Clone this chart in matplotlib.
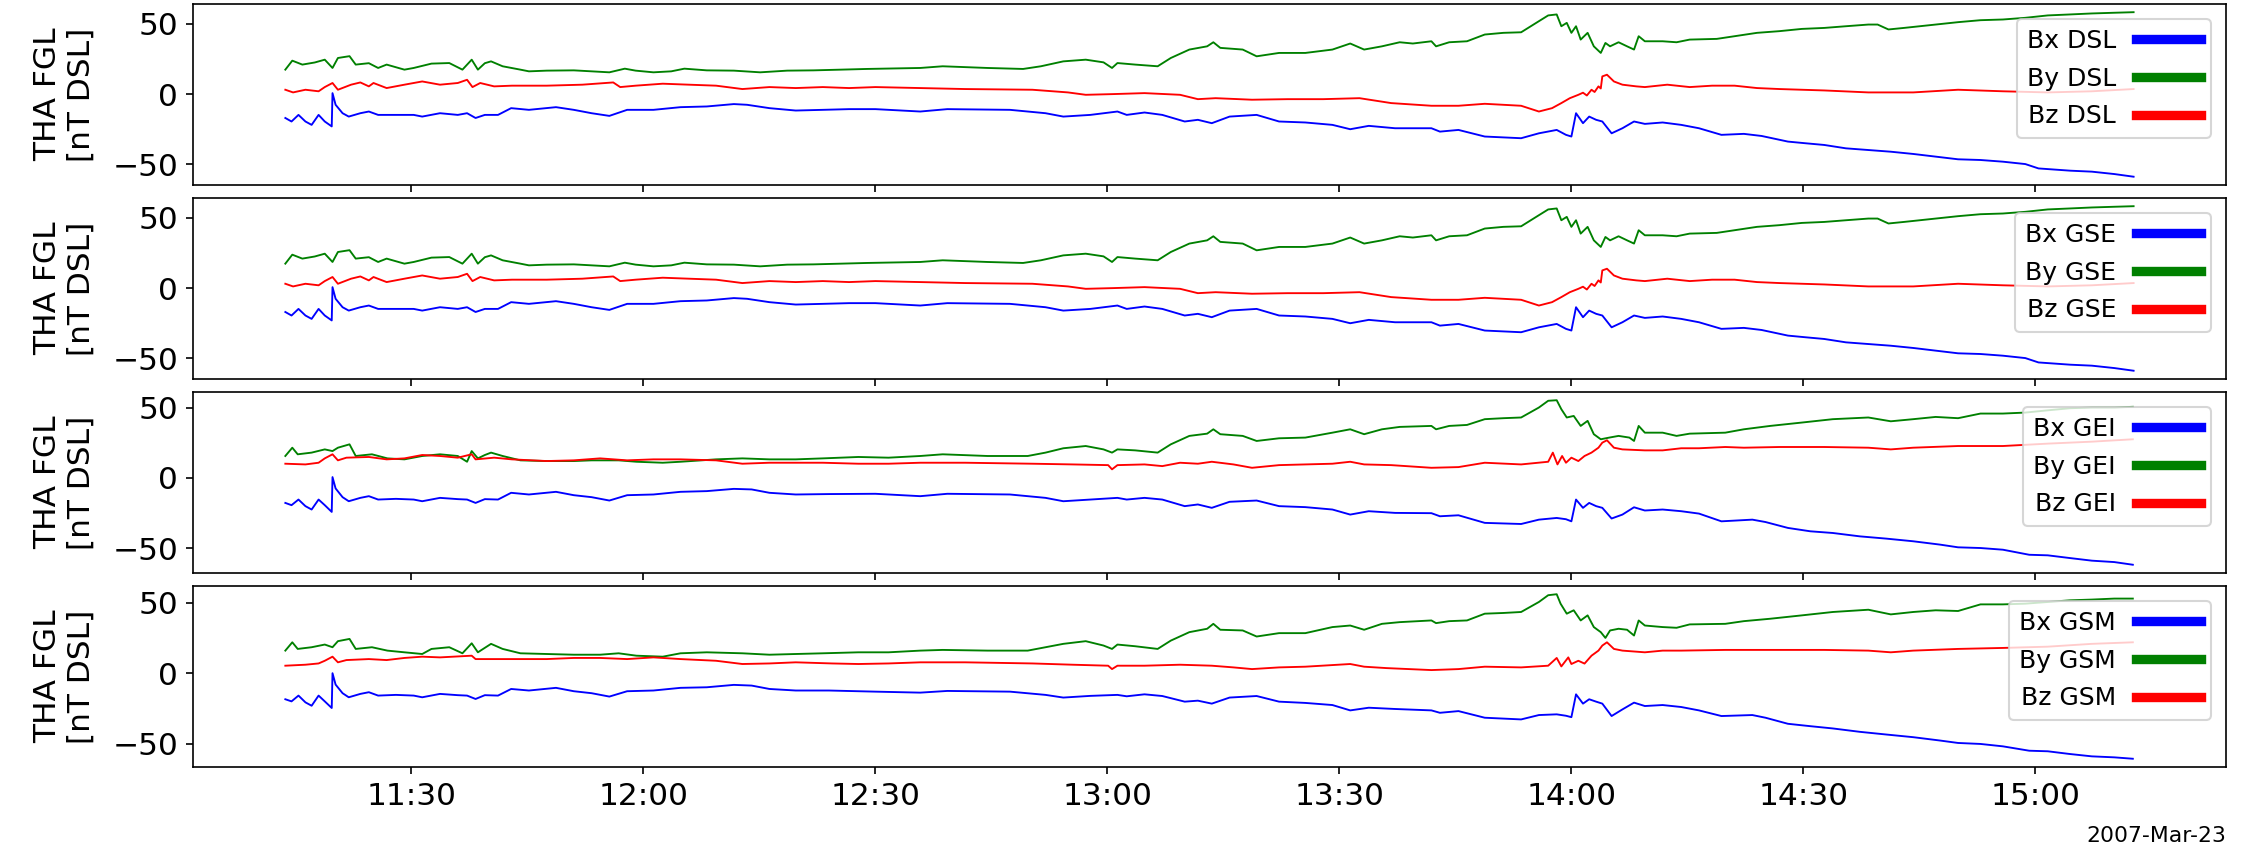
import matplotlib
matplotlib.use("Agg")
import matplotlib.pyplot as plt
import matplotlib.dates as mdates
import pandas as pd

START = pd.Timestamp("2007-03-23 11:00")
DATE_LABEL = "2007-Mar-23"
YLABEL = "THA FGL\n[nT DSL]"
YTICKS = [-50, 0, 50]

# (minutes after 11:00 UT, nT)
DSL_BX = [(13.7,-17),(14.5,-19.5),(15.4,-14.8),(16.3,-19.5),(17.1,-21.9),(18.0,-14.8),(18.8,-19.5),(19.7,-23),(19.8,0.7),
          (20.2,-7.6),(21.1,-13.6),(21.9,-16),(23.4,-13.6),(24.5,-12.4),(25.7,-14.8),(28.0,-14.8),(30.3,-14.8),(31.4,-16),
          (33.7,-13.6),(36.0,-14.8),(37.2,-13.6),(38.3,-17),(39.5,-14.8),(41.2,-14.8),(42.9,-10),(45.2,-11.2),(48.7,-9.3),
          (51.0,-11.2),(53.3,-13.6),(55.6,-15.5),(57.9,-11.2),(61.3,-11.2),(64.8,-9.3),(68.2,-8.8),(71.7,-7.1),(73.4,-7.6),
          (76.3,-10),(79.7,-11.7),(83.2,-11.2),(86.6,-10.7),(90.0,-10.7),(95.8,-12.4),(99.3,-10.7),(107.4,-11.2),(112.0,-13.6),
          (114.3,-16),(117.8,-14.8),(121.3,-12.4),(122.5,-14.8),(124.8,-13.1),(127.1,-14.8),(130.0,-19.5),(131.7,-18.3),
          (133.5,-20.7),(135.8,-16),(139.3,-14.8),(142.2,-19.5),(145.6,-20.2),(149.1,-21.9),(151.4,-25),(153.8,-22.6),
          (157.2,-24.3),(161.9,-24.3),(163.0,-26.7),(165.4,-25.5),(168.8,-30.2),(173.5,-31.4),(175.8,-27.9),(178.1,-25.5),
          (179.3,-29),(180.0,-30.2),(180.6,-13.6),(181.5,-20.7),(182.3,-16),(183.2,-18.3),(184.0,-19.5),(185.2,-27.9),
          (186.6,-24.3),(188.1,-19.5),(189.5,-21.2),(191.8,-20.2),(194.2,-21.9),(196.5,-24.3),(199.4,-29),(202.3,-28.3),
          (204.6,-29.8),(208.0,-33.8),(210.3,-35),(212.7,-36.2),(215.5,-38.6),(218.4,-39.8),(221.3,-41),(224.2,-42.6),
          (227.1,-44.5),(230.0,-46.4),(232.9,-46.9),(235.8,-48.1),(238.7,-49.8),(240.4,-52.9),(244.5,-54.5),(247.3,-55.2),
          (250.2,-56.9),(252.7,-58.8)]
DSL_BY = [(13.7,17.4),(14.6,23.8),(15.9,21),(17.5,22.5),(18.8,24.5),(19.8,18.6),(20.5,25.7),(22.0,27),(22.8,21),(24.5,22),
          (25.7,18.6),(26.8,21),(29.1,17.4),(30.3,18.6),(32.6,21.7),(34.9,22.1),(36.6,17.4),(37.8,24.5),(38.6,17.4),(39.5,22),
          (40.3,23.3),(41.8,19.8),(44.1,17.4),(45.2,16.2),(47.5,16.7),(51.0,16.9),(53.3,16.2),(55.6,15.5),(57.6,18.1),
          (59.0,16.7),(61.3,15.5),(63.6,16.2),(65.3,18.1),(68.2,16.9),(71.7,16.7),(75.1,15.5),(78.6,16.7),(82.0,16.9),
          (85.5,17.4),(88.9,17.9),(95.8,18.6),(98.7,19.8),(104.5,18.6),(109.1,17.9),(111.4,19.8),(114.3,23.3),(117.2,24.5),
          (119.5,22.6),(120.6,18.6),(121.3,22.1),(123.6,21),(126.5,19.8),(128.2,25.7),(130.6,31.7),(132.9,34),(133.7,36.9),
          (134.6,32.9),(137.5,31.7),(139.3,26.9),(142.2,29.3),(145.6,29.3),(149.1,31.7),(151.4,36),(153.2,31.7),(155.5,34),
          (157.8,36.9),(159.5,36),(161.9,37.6),(162.5,34),(164.2,36.9),(166.5,37.6),(168.8,42.4),(171.2,43.6),(173.5,44),
          (175.8,51.9),(177.0,56),(178.1,56.7),(178.7,48.3),(179.4,50.7),(180.0,43.6),(180.6,48.3),(181.2,38.8),(182.1,43.6),
          (182.9,34),(183.8,29.3),(184.4,36.4),(185.0,34),(186.1,36.9),(187.2,34),(188.1,31.7),(188.7,41.2),(189.5,37.6),
          (191.8,37.6),(193.6,36.9),(195.3,38.8),(198.8,39.3),(201.1,41.2),(204.0,43.6),(206.9,44.8),(209.8,46.4),
          (212.7,47.1),(215.5,48.3),(218.4,49.5),(219.6,49.5),(221.0,46),(223.0,47.1),(227.1,49.5),(230.0,51.2),(232.9,52.6),
          (235.8,53.1),(238.7,54.3),(241.6,56),(244.5,56.7),(247.3,57.4),(250.2,57.9),(252.7,58.3)]
DSL_BZ = [(13.7,3.1),(14.7,1.2),(16.3,3.1),(18.0,2),(18.8,5),(19.8,7.9),(20.5,3.1),(21.4,5),(22.2,6.7),(23.4,8.3),(24.5,5.5),
          (25.1,7.9),(26.8,4.3),(29.1,6.7),(31.4,9),(33.7,6.7),(36.0,7.9),(37.2,10.2),(37.9,5),(38.9,7.9),(40.7,5.5),(43.0,6),
          (47.5,6),(52.1,6.7),(56.1,8.3),(57.0,5),(59.0,6),(62.5,7.4),(65.9,6.7),(69.4,6),(72.8,3.6),(76.3,5),(79.7,4.3),
          (83.2,5),(86.6,4.3),(90.0,5),(95.8,4.3),(101.6,3.6),(110.3,3.1),(114.9,1.2),(117.2,-0.5),(120.7,0),(124.8,0.7),
          (129.4,-0.5),(131.7,-3.6),(134.0,-2.9),(138.7,-4),(143.3,-3.6),(147.9,-3.6),(152.6,-2.9),(156.7,-6.4),(161.9,-8.3),
          (165.4,-8.3),(168.8,-6.9),(173.5,-8.3),(175.8,-12.4),(177.5,-10),(178.7,-6.4),(179.8,-2.9),(180.9,-0.5),(181.5,1),
          (182.0,-1),(182.6,3.1),(183.0,1.5),(183.5,5.5),(183.8,4),(184.0,12.6),(184.6,13.8),(185.5,9),(186.6,6.7),
          (188.4,5.5),(189.5,5),(192.4,6.7),(195.3,5),(198.2,6),(201.1,6),(204.0,4.3),(206.9,3.6),(212.7,2.6),(218.4,1.2),
          (224.2,1.2),(230.0,3.1),(235.8,2),(241.6,1.2),(247.3,2),(252.7,3.6)]

# GSE looks the same as DSL at this scale
GSE_BX, GSE_BY, GSE_BZ = DSL_BX, DSL_BY, DSL_BZ

GEI_BX = [(13.7,-17.9),(14.5,-19.5),(15.4,-15.5),(16.3,-20.2),(17.1,-22.6),(18.0,-15.5),(18.8,-19.5),(19.7,-24.3),(19.8,0.5),
          (20.2,-7.6),(21.1,-13.8),(21.9,-16.7),(23.4,-14.3),(24.5,-13.1),(25.7,-15.5),(28.0,-15),(30.3,-15.5),(31.4,-16.7),
          (33.7,-14.3),(36.0,-15.2),(37.2,-15.5),(38.3,-17.9),(39.5,-15.2),(41.2,-15.5),(42.9,-10.7),(45.2,-11.9),(48.7,-10),
          (51.0,-12.4),(53.3,-13.8),(55.6,-16.2),(57.9,-12.4),(61.3,-11.9),(64.8,-10),(68.2,-9.5),(71.7,-7.9),(74.0,-8.3),
          (76.3,-10.7),(79.7,-11.9),(84.0,-11.6),(90.0,-11.4),(95.8,-13.1),(99.3,-11.4),(107.4,-11.9),(112.0,-14.3),
          (114.3,-16.7),(117.8,-15.5),(121.3,-14.3),(122.5,-15.5),(124.8,-14.3),(127.1,-15.5),(130.0,-20.2),(131.7,-19),
          (133.5,-21.4),(135.8,-17.1),(139.3,-16.2),(142.2,-20.2),(145.6,-20.9),(149.1,-22.6),(151.4,-26.2),(153.8,-23.8),
          (157.2,-25),(161.9,-25.2),(163.0,-27.4),(165.4,-26.7),(168.8,-32.1),(173.5,-32.9),(175.8,-29.8),(178.1,-28.6),
          (179.3,-29.5),(180.0,-31),(180.6,-15.5),(181.5,-21.4),(182.3,-17.9),(183.2,-20.2),(184.0,-21.4),(185.2,-29),
          (186.6,-26.2),(188.1,-21),(189.5,-23.3),(191.8,-22.6),(194.2,-23.8),(196.5,-25.5),(199.4,-31),(203.4,-29.8),
          (205.1,-31.5),(208.0,-35.7),(210.9,-38.1),(213.8,-39.3),(217.3,-41.7),(220.7,-43.3),(224.2,-45.2),(227.7,-47.6),
          (230.0,-49.5),(232.9,-50),(235.8,-51.2),(239.2,-54.8),(241.6,-55.2),(244.4,-57.1),(247.3,-59),(250.2,-60),
          (252.6,-61.9)]
GEI_BY = [(13.7,15.5),(14.6,21.4),(15.3,16.7),(17.1,17.9),(18.8,20.2),(19.8,19),(20.5,21.4),(22.0,23.8),(22.8,15.5),
          (24.9,16.7),(26.9,13.8),(29.1,13.1),(31.4,15.5),(33.7,16.7),(36.0,15.5),(37.2,11.4),(37.8,19),(38.6,13.8),
          (39.5,16.2),(40.3,17.9),(41.8,15.5),(44.1,12.4),(47.5,11.9),(51.0,11.9),(53.3,12.4),(56.8,12.4),(59.1,11.4),
          (62.5,10.7),(64.8,11.4),(69.4,13.1),(72.8,13.8),(76.3,13.1),(79.7,13.1),(83.2,13.8),(87.8,14.8),(91.7,14.3),
          (95.8,15.5),(98.7,16.7),(104.5,15.5),(109.7,15.5),(112.0,17.9),(114.3,21),(117.2,22.6),(119.5,20.2),(120.6,17.9),
          (121.3,20.2),(123.6,19.5),(126.5,17.9),(128.2,23.8),(130.6,29.8),(132.9,31.4),(133.7,34.5),(134.6,31),(137.5,29.8),
          (139.3,26.2),(142.2,28.1),(145.6,28.6),(149.1,32.1),(151.4,34.5),(153.2,31),(155.5,34.5),(157.8,36.2),(161.9,36.9),
          (162.5,34.5),(164.2,36.9),(166.5,37.6),(168.8,41.7),(171.2,42.4),(173.5,42.9),(175.8,50),(177.0,54.8),(178.1,55.2),
          (178.7,48.8),(179.4,42.9),(180.3,44),(181.2,36.9),(182.1,40.5),(182.9,31),(183.8,27.4),(184.9,28.6),(186.1,29.8),
          (187.5,28.6),(188.1,26.2),(188.7,36.9),(189.5,32.1),(191.8,32.1),(193.6,29.8),(195.3,31.4),(199.9,32.1),
          (202.3,34.5),(205.7,36.9),(209.8,39.3),(213.8,41.7),(218.4,42.9),(221.3,40.2),(224.2,41.7),(227.1,43.3),
          (230.0,42.4),(232.9,45.7),(235.8,45.7),(238.7,46.4),(241.6,48),(244.5,49.5),(247.3,50),(250.2,50),(252.6,50.5)]
GEI_BZ = [(13.7,10),(16.3,9.5),(18.0,10.7),(18.8,13.8),(19.8,16.7),(20.5,12.4),(21.6,14.3),(24.5,14.8),(26.8,13.1),
          (29.1,13.8),(31.4,16.2),(33.7,15.5),(36.0,14.3),(37.8,16.7),(38.3,13.1),(40.7,14.3),(43.0,13.1),(47.5,11.9),
          (51.0,12.4),(54.4,13.8),(57.9,12.4),(61.3,13.1),(64.8,13.1),(69.4,12.4),(72.8,10),(76.3,10.7),(79.7,10.7),
          (83.2,10.7),(87.8,10),(91.7,10),(95.8,10.7),(101.6,10.7),(110.3,10),(115.5,9.5),(120.1,9),(120.6,6),(121.3,9),
          (124.8,9.5),(127.1,8.3),(129.4,10.7),(131.7,10),(133.5,11.4),(136.3,9.5),(138.7,7.1),(142.2,9),(145.6,9.5),
          (149.1,10),(151.4,11.4),(153.2,9.5),(156.7,9),(161.9,7.1),(165.4,7.6),(168.8,10.7),(173.5,9.5),(177.0,11.4),
          (177.6,17.9),(178.2,9.5),(178.8,15.5),(179.3,10.7),(180.0,14.3),(180.9,11.9),(181.7,15.5),(182.6,17.9),
          (183.5,21.4),(184.0,25),(184.6,26.7),(185.5,21.4),(186.6,20.2),(189.5,19.5),(191.8,19.5),(194.2,21),(196.5,21),
          (199.9,21.9),(202.3,21.4),(206.9,21.9),(212.7,21.9),(218.4,21.4),(221.3,20.2),(224.2,21.4),(230.0,22.6),
          (235.8,22.6),(241.6,24.3),(247.3,25.7),(252.6,27.4)]

GSM_BX = [(13.7,-18.3),(14.5,-19.8),(15.4,-15.7),(16.3,-20.5),(17.1,-22.9),(18.0,-15.7),(18.8,-19.8),(19.7,-24.5),(19.8,0.2),
          (20.2,-7.9),(21.1,-14),(21.9,-16.9),(23.4,-14.5),(24.5,-13.3),(25.7,-15.7),(28.0,-15.2),(30.3,-15.7),(31.4,-16.9),
          (33.7,-14.5),(36.0,-15.4),(37.2,-15.7),(38.3,-18.1),(39.5,-15.4),(41.2,-15.7),(42.9,-11),(45.2,-12.1),(48.7,-10.2),
          (51.0,-12.6),(53.3,-14),(55.6,-16.4),(57.9,-12.6),(61.3,-12.1),(64.8,-10.2),(68.2,-9.8),(71.7,-8.1),(74.0,-8.6),
          (76.3,-11),(79.7,-12.1),(84.0,-12.1),(90.0,-12.9),(95.8,-13.6),(99.3,-12.4),(107.4,-12.9),(112.0,-15.2),
          (114.3,-17.1),(117.8,-15.9),(121.3,-15.2),(122.5,-16.2),(124.8,-14.8),(127.1,-16),(130.0,-20),(131.7,-19.3),
          (133.5,-21.4),(135.8,-17.1),(139.3,-16),(142.2,-20),(145.6,-20.9),(149.1,-22.4),(151.4,-26.2),(153.8,-24.3),
          (157.2,-25.2),(161.9,-26.2),(163.0,-27.9),(165.4,-26.7),(168.8,-31.4),(173.5,-32.6),(175.8,-29.5),(178.1,-29),
          (179.3,-30),(180.0,-31),(180.6,-14.8),(181.5,-21.4),(182.3,-18.3),(183.2,-20),(184.0,-21.4),(185.2,-30.2),
          (186.6,-25.5),(188.1,-20.7),(189.5,-23.1),(191.8,-22.4),(194.2,-23.8),(196.5,-26.2),(199.4,-30.2),(203.4,-29.5),
          (205.1,-31.4),(208.0,-35.7),(210.9,-37.4),(213.8,-39),(217.3,-41.4),(220.7,-43.3),(224.2,-45.2),(227.7,-47.6),
          (230.0,-49.3),(232.9,-50),(235.8,-51.7),(239.2,-54.8),(241.6,-55.2),(244.4,-57.1),(247.3,-58.8),(250.2,-59.5),
          (252.6,-60.5)]
GSM_BY = [(13.7,16.2),(14.6,22.1),(15.3,17.4),(17.1,18.6),(18.8,20.5),(19.8,18.6),(20.5,22.9),(22.0,24.5),(22.8,17.4),
          (24.9,18.6),(26.9,16.2),(29.1,15),(31.4,13.8),(32.6,17.4),(34.9,18.6),(36.6,14.3),(37.8,21.4),(38.6,15),(40.3,21),
          (41.8,17.4),(44.1,14.3),(47.5,13.8),(51.0,13.3),(54.4,13.3),(56.8,14.3),(59.1,12.6),(62.5,11.9),(64.8,14.3),
          (68.2,15),(72.8,14.3),(76.3,13.3),(79.7,13.8),(83.2,14.3),(87.8,15),(91.7,15),(95.8,16.2),(98.7,16.7),(104.5,16.2),
          (109.7,16.2),(112.0,18.6),(114.3,21),(117.2,22.9),(119.5,19.8),(120.6,17.4),(121.3,20.5),(123.6,19.3),(126.5,17.4),
          (128.2,23.3),(130.6,29.3),(132.9,31.7),(133.7,35.2),(134.6,31),(137.5,30.5),(139.3,26.2),(142.2,28.6),(145.6,28.6),
          (149.1,32.9),(151.4,34),(153.2,31),(155.5,35.2),(157.8,36.4),(161.9,37.6),(162.5,35.7),(164.2,37.1),(166.5,37.6),
          (168.8,42.4),(171.2,42.9),(173.5,43.6),(175.8,50.7),(177.0,55.5),(178.1,56.2),(178.6,49.5),(179.4,42.4),
          (180.3,44.8),(181.2,37.6),(182.1,41.2),(182.9,32.9),(183.8,29.3),(184.4,25.2),(185.0,30.5),(186.1,31.7),(187.2,31),
          (188.1,26.9),(188.7,37.6),(189.5,34),(191.8,32.9),(193.6,32.4),(195.3,34.8),(199.9,35.2),(202.3,37.1),(205.7,38.8),
          (209.8,41.2),(213.8,43.6),(218.4,45.2),(221.3,41.9),(224.2,43.6),(227.1,44.8),(230.0,44.3),(232.9,49),(235.8,49),
          (238.7,49.5),(241.6,50.7),(244.5,51.9),(247.3,52.4),(250.2,53.1),(252.6,53.1)]
GSM_BZ = [(13.7,5.5),(16.3,6.2),(18.0,7.1),(18.8,9),(19.8,11.9),(20.5,7.9),(21.6,9.5),(24.5,10.2),(26.8,9.5),(29.1,11),
          (31.4,11.9),(33.7,11.4),(37.8,12.6),(38.3,10.2),(41.8,10.2),(47.5,10.2),(51.0,11),(54.4,11),(57.9,10.2),(61.3,11.4),
          (64.8,10.2),(69.4,9),(72.8,6.7),(76.3,7.1),(79.7,7.9),(84.4,7.1),(87.8,6.7),(91.7,7.1),(95.8,7.9),(101.6,7.9),
          (110.3,7.1),(115.5,6.2),(120.1,5.5),(120.6,3.1),(121.3,5.5),(124.8,5.5),(129.4,6.2),(133.5,5.5),(136.3,4.3),
          (138.7,3.1),(142.2,4.3),(145.6,4.8),(151.4,6.7),(153.2,4.8),(156.1,3.8),(161.9,2.4),(165.4,3.1),(168.8,4.8),
          (173.5,4.3),(177.0,5.5),(178.1,11),(178.7,5),(179.6,11.4),(180.0,6.7),(180.9,9),(181.7,7),(182.6,12.6),(183.5,16.2),
          (184.0,19.8),(184.6,22.1),(185.5,17.4),(186.6,16.2),(189.5,15),(191.8,16.2),(194.2,16.2),(199.9,16.7),(206.9,16.7),
          (212.7,16.7),(218.4,16.2),(221.3,15),(224.2,16.2),(230.0,17.4),(235.8,18.1),(241.6,19),(247.3,21),(252.6,22.1)]

PANELS = [("DSL", DSL_BX, DSL_BY, DSL_BZ),
          ("GSE", GSE_BX, GSE_BY, GSE_BZ),
          ("GEI", GEI_BX, GEI_BY, GEI_BZ),
          ("GSM", GSM_BX, GSM_BY, GSM_BZ)]
COLORS = ["b", "g", "r"]


def to_series(pairs):
    mins = [p[0] for p in pairs]
    vals = [p[1] for p in pairs]
    t = START + pd.to_timedelta(mins, unit="min")
    return t, vals


fig, axes = plt.subplots(4, 1, sharex=True, figsize=(2259 / 150, 861 / 150), dpi=150)
fig.subplots_adjust(left=0.0854, right=0.9854, top=0.9954, bottom=0.1092, hspace=0.072)

for ax, (frame, bx, by, bz) in zip(axes, PANELS):
    for comp, data, c in zip(["Bx", "By", "Bz"], [bx, by, bz], COLORS):
        t, v = to_series(data)
        ax.plot(t, v, color=c, lw=0.9, label=comp + " " + frame)
    leg = ax.legend(loc="upper right", markerfirst=False, fontsize=12, handlelength=2.6,
                    labelspacing=0.55, borderaxespad=0.6)
    for h in leg.get_lines():
        h.set_linewidth(4.5)
    ax.set_yticks(YTICKS)
    ax.tick_params(labelsize=15)
    ax.set_ylabel(YLABEL, fontsize=15, labelpad=8)

axes[-1].xaxis.set_major_locator(mdates.MinuteLocator(byminute=[0, 30]))
axes[-1].xaxis.set_major_formatter(mdates.DateFormatter("%H:%M"))

fig.text(0.9854, 0.029, DATE_LABEL, ha="right", va="center", fontsize=10.5)

fig.savefig("out.png", dpi=150)
